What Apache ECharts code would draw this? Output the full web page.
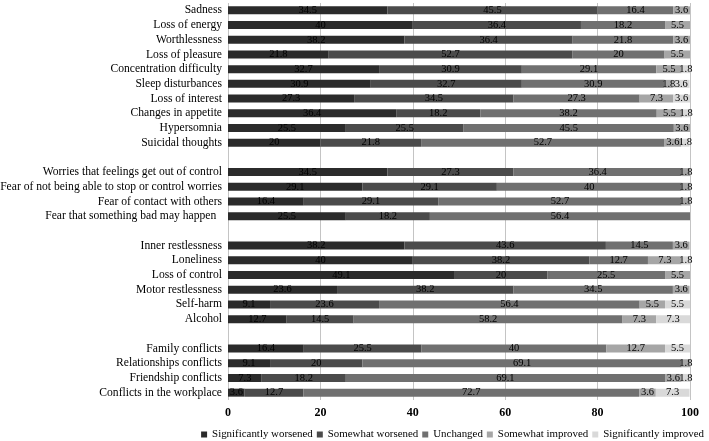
<!DOCTYPE html>
<html>
<head>
<meta charset="utf-8">
<script src="https://cdn.jsdelivr.net/npm/echarts@6/dist/echarts.min.js"></script>
<style>html,body{margin:0;padding:0;background:#fff}#c{width:709px;height:441px}</style>
</head>
<body>
<div id="c"></div>
<script>
const categories = [
  'Sadness','Loss of energy','Worthlessness','Loss of pleasure','Concentration difficulty',
  'Sleep disturbances','Loss of interest','Changes in appetite','Hypersomnia','Suicidal thoughts',
  ' ',
  'Worries that feelings get out of control','Fear of not being able to stop or control worries',
  'Fear of contact with others','Fear that something bad may happen  ',
  '  ',
  'Inner restlessness','Loneliness','Loss of control','Motor restlessness','Self-harm','Alcohol',
  '   ',
  'Family conflicts','Relationships conflicts','Friendship conflicts','Conflicts in the workplace'
];
const seriesNames = ['Significantly worsened','Somewhat worsened','Unchanged','Somewhat improved','Significantly improved'];
const sigWorse   = [34.5,40,38.2,21.8,32.7,30.9,27.3,36.4,25.5,20, null, 34.5,29.1,16.4,25.5, null, 38.2,40,49.1,23.6,9.1,12.7, null, 16.4,9.1,7.3,3.6];
const someWorse  = [45.5,36.4,36.4,52.7,30.9,32.7,34.5,18.2,25.5,21.8, null, 27.3,29.1,29.1,18.2, null, 43.6,38.2,20,38.2,23.6,14.5, null, 25.5,20,18.2,12.7];
const unchanged  = [16.4,18.2,21.8,20,29.1,30.9,27.3,38.2,45.5,52.7, null, 36.4,40,52.7,56.4, null, 14.5,12.7,25.5,34.5,56.4,58.2, null, 40,69.1,69.1,72.7];
const someImpr   = [3.6,5.5,3.6,5.5,5.5,1.8,7.3,5.5,3.6,3.6, null, 1.8,1.8,1.8,null, null, 3.6,7.3,5.5,3.6,5.5,7.3, null, 12.7,1.8,3.6,3.6];
const sigImpr    = [null,null,null,null,1.8,3.6,3.6,1.8,null,1.8, null, null,null,null,null, null, null,1.8,null,null,5.5,7.3, null, 5.5,null,1.8,7.3];
const xTicks = [0,20,40,60,80,100];

const values = [sigWorse, someWorse, unchanged, someImpr, sigImpr];
const colors = ['#2b2b2b','#4b4b4b','#707070','#a6a6a6','#d9d9d9'];
const font = '"Liberation Serif","Times New Roman",serif';

const chart = echarts.init(document.getElementById('c'), null, {renderer:'canvas'});
chart.setOption({
  animation:false,
  textStyle:{fontFamily:font},
  grid:{left:228,right:19,top:3,bottom:41,containLabel:false,outerBoundsMode:'none'},
  legend:{
    right:0, bottom:-4, itemWidth:6, itemHeight:6, itemGap:4, icon:'rect',
    textStyle:{fontFamily:font,fontSize:10.9,color:'#000'},
    data:seriesNames
  },
  xAxis:{
    type:'value', min:0, max:100, interval:20,
    axisLine:{show:false}, axisTick:{show:false},
    splitLine:{show:true,lineStyle:{color:'#c4c4c4',width:1}},
    axisLabel:{fontFamily:font,fontSize:12,fontWeight:'bold',color:'#000',margin:7,
      formatter:v=>xTicks.includes(v)?String(v):''}
  },
  yAxis:{
    type:'category', data:categories, inverse:true,
    axisLine:{show:false}, axisTick:{show:false},
    axisLabel:{fontFamily:font,fontSize:11.6,color:'#000',margin:6,interval:0}
  },
  series: seriesNames.map((n,i)=>({
    name:n, type:'bar', stack:'total', barWidth:8,
    itemStyle:{color:colors[i]},
    label:{show:true,position:'inside',color:'#000',fontFamily:font,fontSize:10.5,
      formatter:p=>p.value==null?'':String(p.value)},
    data: values[i]
  }))
});
</script>
</body>
</html>
